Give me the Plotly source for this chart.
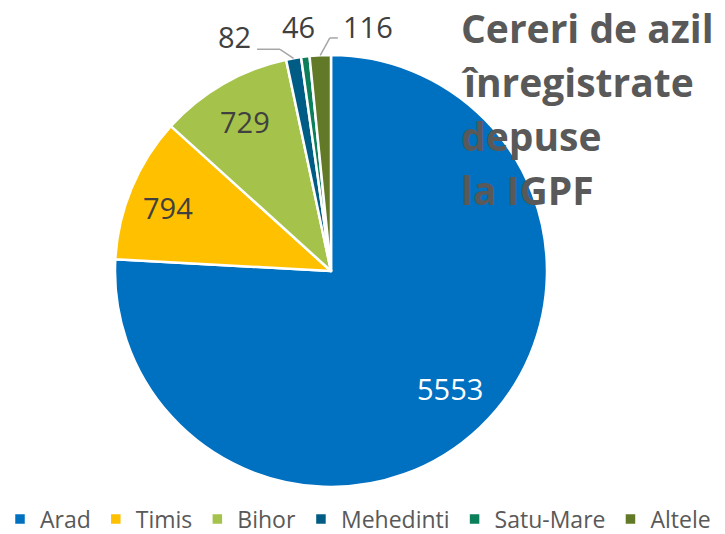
import math
import plotly.graph_objects as go

# ---- data ----
labels = ["Arad", "Timis", "Bihor", "Mehedinti", "Satu-Mare", "Altele"]
values = [5553, 794, 729, 82, 46, 116]
colors = ["#0070C0", "#FFC000", "#A5C34B", "#005C85", "#0A7F5A", "#627A27"]
title_lines = ["Cereri de azil", "înregistrate", "depuse", "la IGPF"]

# ---- layout constants (pixels) ----
W, H = 725, 534
CX, CY, R = 331, 271, 216
FONT = "Open Sans"
LABEL_COLOR = "#404040"
# label style per slice: ("in", radial fraction, colour, dx, dy) or ("out", label dx, dy, elbow, end)
label_style = {
    "Arad": ("in", 0.775, "white", 4, -4),
    "Timis": ("in", 0.81, LABEL_COLOR, -2, 4),
    "Bihor": ("in", 0.80, LABEL_COLOR, 0, 0),
    "Mehedinti": ("out", -59, -22, (-13.5, -9), (-36.5, -9)),
    "Satu-Mare": ("out", -7, -30, None, None),
    "Altele": ("out", 48, -29, (9.6, -17.3), (17.6, -17.3)),
}


def px(x, y):
    return x / W, 1 - y / H


x0, y1 = px(CX - R, CY - R)
x1, y0 = px(CX + R, CY + R)

fig = go.Figure(
    go.Pie(
        labels=labels,
        values=values,
        sort=False,
        direction="clockwise",
        rotation=0,
        textinfo="none",
        marker=dict(colors=colors, line=dict(color="white", width=2.5)),
        domain=dict(x=[x0, x1], y=[y0, y1]),
        hoverinfo="label+value",
    )
)

# value labels placed from slice angles
total = sum(values)
cum = 0
annotations = []
shapes = []
for lab, v in zip(labels, values):
    mid = (cum + v / 2) / total * 2 * math.pi
    cum += v
    st = label_style[lab]
    if st[0] == "in":
        r = R * st[1]
        lx, ly = px(CX + r * math.sin(mid) + st[3], CY - r * math.cos(mid) + st[4])
        annotations.append(
            dict(x=lx, y=ly, xref="paper", yref="paper", text=str(v), showarrow=False,
                 xanchor="center", yanchor="middle",
                 font=dict(family=FONT, size=29, color=st[2]))
        )
        continue
    ex = CX + R * math.sin(mid)
    ey = CY - R * math.cos(mid)
    _, ldx, ldy, elbow, end = st
    lx, ly = px(ex + ldx, ey + ldy)
    annotations.append(
        dict(x=lx, y=ly, xref="paper", yref="paper", text=str(v), showarrow=False,
             xanchor="center", yanchor="middle",
             font=dict(family=FONT, size=29, color=LABEL_COLOR))
    )
    if elbow is not None:
        pts = [(ex, ey), (ex + elbow[0], ey + elbow[1]), (ex + end[0], ey + end[1])]
        for (ax, ay), (bx, by) in zip(pts[:-1], pts[1:]):
            a = px(ax, ay)
            b = px(bx, by)
            shapes.append(
                dict(type="line", xref="paper", yref="paper",
                     x0=a[0], y0=a[1], x1=b[0], y1=b[1],
                     line=dict(color="#A6A6A6", width=1.5))
            )

# title (each line placed separately for line spacing)
TX, TY0, TSTEP = 459, 27, 54
for i, line in enumerate(title_lines):
    tx, ty = px(TX, TY0 + i * TSTEP)
    annotations.append(
        dict(x=tx, y=ty, xref="paper", yref="paper", text=f"<b>{line}</b>", showarrow=False,
             xanchor="left", yanchor="middle",
             font=dict(family=FONT, size=39, color="#595959"))
    )

fig.update_layout(
    width=W,
    height=H,
    margin=dict(l=0, r=0, t=0, b=0, autoexpand=False),
    paper_bgcolor="white",
    plot_bgcolor="white",
    showlegend=True,
    legend=dict(
        orientation="h",
        x=0, xanchor="left",
        y=1 - 519 / H, yanchor="middle",
        font=dict(family=FONT, size=23, color="#595959"),
        itemwidth=30,
        tracegroupgap=0,
    ),
    annotations=annotations,
    shapes=shapes,
)

fig.write_html(
    "out.html",
    config={"displayModeBar": False},
    post_script="document.body.style.margin='0';document.body.style.overflow='hidden';",
)
